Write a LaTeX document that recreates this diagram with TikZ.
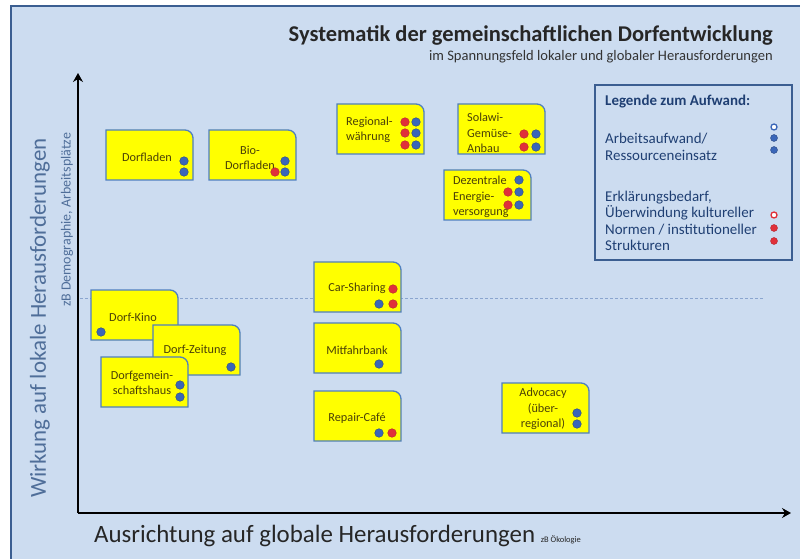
\documentclass[tikz,border=0pt]{standalone}
\usepackage{fontspec}
\setmainfont{Carlito}
\usetikzlibrary{arrows.meta}

\definecolor{hgblau}{HTML}{CCDCF0}
\definecolor{rahmenblau}{HTML}{3B5E91}
\definecolor{kastengelb}{HTML}{FFFF00}
\definecolor{kastenrand}{HTML}{4F7FC0}
\definecolor{kastentext}{HTML}{4A4008}
\definecolor{punktblau}{HTML}{3A66B8}
\definecolor{punktrot}{HTML}{E0303A}
\definecolor{achsblau}{HTML}{4F6E99}
\definecolor{legtext}{HTML}{1F3F73}
\definecolor{strichblau}{HTML}{8AA5CF}

\tikzset{
  kasten/.style={fill=kastengelb, draw=kastenrand, line width=1.3bp},
  ktext/.style={font=\fontsize{12.3}{15.5}\selectfont, text=kastentext, align=center, inner sep=0pt},
  bpunkt/.style={fill=punktblau, draw=punktblau!70!black, line width=0.4bp},
  rpunkt/.style={fill=punktrot, draw=punktrot!80!black, line width=0.4bp},
  legende/.style={font=\fontsize{15}{16.5}\selectfont, text=legtext, align=left, inner sep=0pt, anchor=west},
}

% Kasten mit runder Ecke oben rechts, #1/#2 = linke obere Ecke
\newcommand{\kasten}[2]{%
  \filldraw[kasten] (#1+40,#2) [rounded corners=8bp] -- (#1+87,#2) -- (#1+87,#2+20)
    [sharp corners] -- (#1+87,#2+50) -- (#1,#2+50) -- (#1,#2) -- cycle;}

\begin{document}
\begin{tikzpicture}[x=1bp,y=-1bp]

    \useasboundingbox (0,0) rectangle (800,559);

    %Hintergrund
    \fill[white] (0,0) rectangle (800,559);
    \fill[hgblau] (11,6) rectangle (800,559);
    \draw[rahmenblau, line width=2bp] (11,559) -- (11,6) -- (800,6);

    %Titel
    \node[anchor=east, inner sep=0pt, font=\bfseries\fontsize{22.6}{25}\selectfont, text=black!85] (titel) at (773,35) {Systematik der gemeinschaftlichen Dorfentwicklung};
    \node[anchor=east, inner sep=0pt, font=\fontsize{14.6}{16}\selectfont, text=black!80] (untertitel) at (773,57) {im Spannungsfeld lokaler und globaler Herausforderungen};

    %Achsen
    \coordinate (ursprung) at (78,513);
    \coordinate (yende) at (78,73);
    \coordinate (xende) at (791,513);
    \draw[line width=2bp, -{Stealth[length=9bp,width=10bp,inset=3bp]}] (ursprung) -- (yende);
    \draw[line width=2bp, -{Stealth[length=9bp,width=10bp,inset=3bp]}] (ursprung) -- (xende);
    \node[rotate=90, inner sep=0pt, font=\fontsize{23}{26}\selectfont, text=achsblau] (ylabel) at (40,318) {Wirkung auf lokale Herausforderungen};
    \node[rotate=90, inner sep=0pt, font=\fontsize{14}{16}\selectfont, text=achsblau] (ylabelzB) at (67,220) {zB Demographie, Arbeitsplätze};
    \node[anchor=base west, inner sep=0pt, text=black!85] (xlabel) at (94,542) {\fontsize{25}{28}\selectfont Ausrichtung auf globale Herausforderungen {\fontsize{8.5}{10}\selectfont zB Ökologie}};

    %Mittellinie
    \coordinate (mitte1) at (80,298);
    \coordinate (mitte2) at (765,298);
    \draw[strichblau, line width=0.8bp, dash pattern=on 3bp off 2bp] (mitte1) -- (mitte2);

    %Legende
    \draw[rahmenblau, line width=1.8bp] (595,85) rectangle (792,260);
    \node[legende, font=\bfseries\fontsize{15}{17}\selectfont] (legtitel) at (605,102) {Legende zum Aufwand:};
    \node[legende] (legarbeit) at (605,147) {Arbeitsaufwand/\\Ressourceneinsatz};
    \node[legende] (legerkl) at (605,221) {Erklärungsbedarf,\\Überwindung kultureller\\Normen / institutioneller\\Strukturen};
    \filldraw[fill=white, draw=punktblau, line width=1.3bp] (774,127) circle (3bp);
    \foreach \y in {138,150}{
        \fill[bpunkt] (774,\y) circle (3.5bp);
    }
    \filldraw[fill=white, draw=punktrot, line width=1.3bp] (774,215) circle (3bp);
    \foreach \y in {228,241}{
        \fill[rpunkt] (774,\y) circle (3.5bp);
    }

    %Kaesten
    \kasten{106}{130}
    \node[ktext] (dorfladen) at (147,157) {Dorfladen};
    \kasten{209}{130}
    \node[ktext] (biodorfladen) at (250,158) {Bio-\\Dorfladen};
    \kasten{337}{104}
    \node[ktext, align=left, anchor=west] (regional) at (346,130) {Regional-\\währung};
    \kasten{458}{104}
    \node[ktext, align=left, anchor=west] (solawi) at (467,133) {Solawi-\\Gemüse-\\Anbau};
    \kasten{444}{170}
    \node[ktext, align=left, anchor=west] (energie) at (453,197) {Dezentrale\\Energie-\\versorgung};
    \kasten{91}{290}
    \node[ktext] (kino) at (133,317) {Dorf-Kino};
    \kasten{153}{325}
    \node[ktext] (zeitung) at (195,350) {Dorf-Zeitung};
    \kasten{101}{357}
    \node[ktext] (gemeinschaft) at (142,383) {Dorfgemein-\\schaftshaus};
    \kasten{314}{262}
    \node[ktext] (carsharing) at (357,288) {Car-Sharing};
    \kasten{314}{323}
    \node[ktext] (mitfahrbank) at (357,350) {Mitfahrbank};
    \kasten{314}{391}
    \node[ktext] (repair) at (357,418) {Repair-Café};
    \kasten{502}{383}
    \node[ktext] (advocacy) at (543,409) {Advocacy\\(über-\\regional)};

    %Punkte
    \foreach \x/\y in {184/161,184/172,285/161,285/172,416/122,416/133,416/145,536/134,536/147,519/180,519/192,519/205,101/332,231/367,180/385,180/397,379/304,379/364,379/433,577/413,577/424}{
        \fill[bpunkt] (\x,\y) circle (4.3bp);
    }
    \foreach \x/\y in {275/172,405/122,405/133,405/145,524/134,524/147,508/192,508/205,393/289,393/304,392/433}{
        \fill[rpunkt] (\x,\y) circle (4.3bp);
    }

\end{tikzpicture}
\end{document}
